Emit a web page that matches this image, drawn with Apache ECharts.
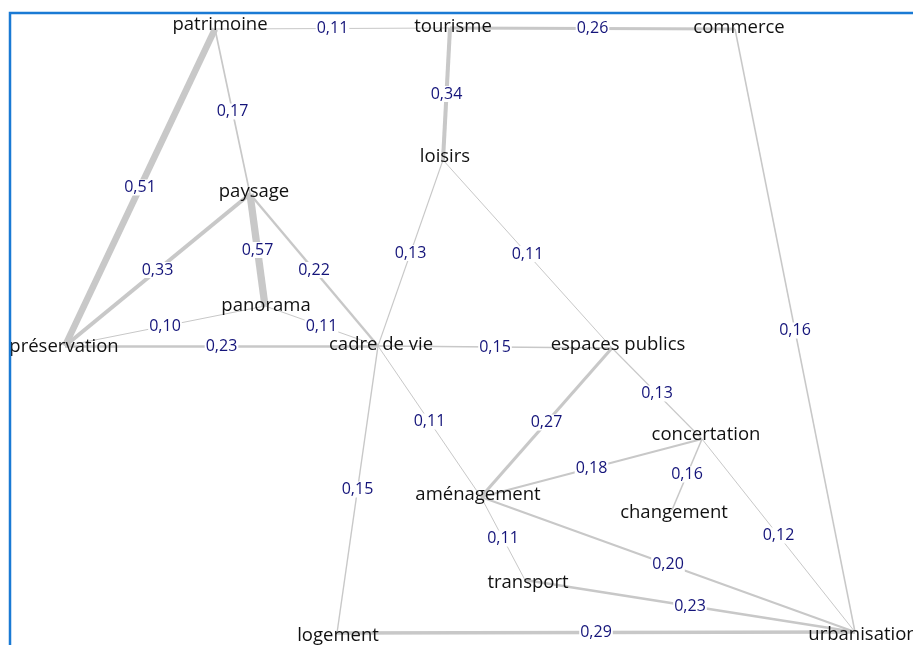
<!DOCTYPE html>
<html>
<head>
<meta charset="utf-8">
<script src="https://cdn.jsdelivr.net/npm/echarts@6/dist/echarts.min.js"></script>
<style>
html,body{margin:0;padding:0;background:#fff;}
#chart{width:913px;height:645px;}
</style>
</head>
<body>
<div id="chart"></div>
<script>
// ---- DATA ----
const nodeNames = ['patrimoine','tourisme','commerce','loisirs','paysage','panorama','préservation','cadre de vie','espaces publics','concertation','changement','aménagement','transport','logement','urbanisation'];
const nodeX = [215, 450, 735, 443, 250, 265, 65, 378, 612, 702, 672, 481, 525, 337, 855];
const nodeY = [29, 28, 29, 160, 194, 306, 346, 346, 348, 439, 510, 497, 580, 633, 632];

const linkSource = ['patrimoine','tourisme','tourisme','patrimoine','patrimoine','paysage','paysage','paysage','panorama','panorama','préservation','loisirs','loisirs','cadre de vie','commerce','espaces publics','espaces publics','cadre de vie','cadre de vie','aménagement','concertation','concertation','aménagement','aménagement','transport','logement'];
const linkTarget = ['tourisme','commerce','loisirs','préservation','paysage','préservation','panorama','cadre de vie','préservation','cadre de vie','cadre de vie','cadre de vie','espaces publics','espaces publics','urbanisation','concertation','aménagement','aménagement','logement','concertation','changement','urbanisation','urbanisation','transport','urbanisation','urbanisation'];
const linkValue = [0.11, 0.26, 0.34, 0.51, 0.17, 0.33, 0.57, 0.22, 0.10, 0.11, 0.23, 0.13, 0.11, 0.15, 0.16, 0.13, 0.27, 0.11, 0.15, 0.18, 0.16, 0.12, 0.20, 0.11, 0.23, 0.29];

// ---- STYLE ----
const labelOffset = {
  'patrimoine':[5,-4], 'tourisme':[3,-1], 'commerce':[4,-1], 'loisirs':[2,-3], 'paysage':[4,-2],
  'panorama':[1,0], 'préservation':[-1,1], 'cadre de vie':[3,-1], 'espaces publics':[6,-3],
  'concertation':[4,-4], 'changement':[2,3], 'aménagement':[-3,-2], 'transport':[3,3],
  'logement':[1,3], 'urbanisation':[8,3]
};
const FONT = '"Open Sans", "Noto Sans", sans-serif';
const fmt = v => v.toFixed(2).replace('.', ',');
const widthOf = v => Math.max(1, (v - 0.05) * 14);

const idx = {};
nodeNames.forEach((n,i)=>{ idx[n]=i; });

const nodes = nodeNames.map((n,i)=>({
  name: n,
  value: [nodeX[i], nodeY[i]],
  label: { offset: labelOffset[n] || [0,0] }
}));
const links = linkValue.map((v,i)=>({
  source: linkSource[i], target: linkTarget[i], value: v,
  lineStyle: { width: widthOf(v) }
}));
const edgeLabels = linkValue.map((v,i)=>{
  const a = idx[linkSource[i]], b = idx[linkTarget[i]];
  return { value: [(nodeX[a]+nodeX[b])/2, (nodeY[a]+nodeY[b])/2, v] };
});

const chart = echarts.init(document.getElementById('chart'), null, {renderer:'canvas'});
chart.setOption({
  animation: false,
  backgroundColor: '#ffffff',
  grid: { left: 0, right: 0, top: 0, bottom: 0 },
  xAxis: { type: 'value', min: 0, max: 913, show: false },
  yAxis: { type: 'value', min: 0, max: 645, inverse: true, show: false },
  graphic: [{
    type: 'rect', silent: true, z: 100,
    shape: { x: 10, y: 13, width: 1000, height: 1000 },
    style: { fill: 'none', stroke: '#1a7ad4', lineWidth: 2.5 }
  }],
  series: [{
    type: 'graph',
    coordinateSystem: 'cartesian2d',
    data: nodes,
    links: links,
    symbol: 'circle',
    symbolSize: 1,
    itemStyle: { color: 'rgba(0,0,0,0)' },
    lineStyle: { color: '#c8c8c8', opacity: 1, curveness: 0 },
    label: {
      show: true, position: 'inside', color: '#111111',
      fontFamily: FONT, fontSize: 18.5, formatter: p => p.name
    },
    emphasis: { disabled: true },
    z: 2
  }, {
    type: 'scatter',
    coordinateSystem: 'cartesian2d',
    data: edgeLabels,
    symbolSize: 0,
    itemStyle: { color: 'rgba(0,0,0,0)', opacity: 1 },
    label: {
      show: true, position: 'inside', color: '#14147a', opacity: 1,
      fontFamily: FONT, fontSize: 16,
      backgroundColor: '#ffffff', padding: [0, 1],
      formatter: p => fmt(p.value[2])
    },
    emphasis: { disabled: true },
    z: 5
  }]
});
</script>
</body>
</html>
